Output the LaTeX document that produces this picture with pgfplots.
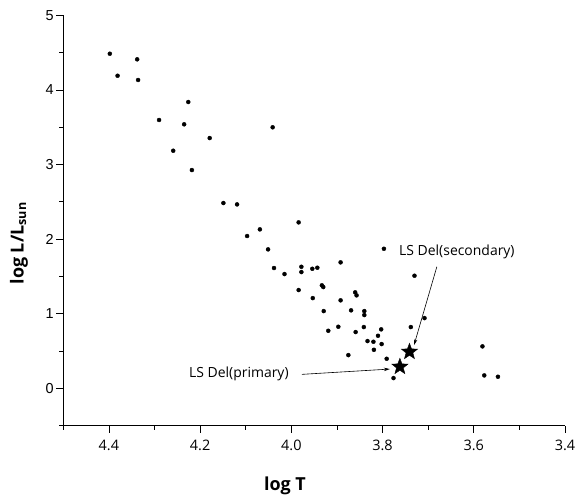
\documentclass[border=0pt]{standalone}
\usepackage{fontspec}
\usepackage{pgfplots}
\pgfplotsset{compat=1.18}
\usetikzlibrary{arrows.meta}
\usetikzlibrary{plotmarks}
\newfontfamily\comicfont{Open Sans}
\newfontfamily\arialfont{Liberation Sans}
\setmainfont{Open Sans}
\pgfdeclareplotmark{fstar}{%
  \pgfpathmoveto{\pgfpointpolar{90}{\pgfplotmarksize}}%
  \pgfpathlineto{\pgfpointpolar{126}{0.42\pgfplotmarksize}}%
  \pgfpathlineto{\pgfpointpolar{162}{\pgfplotmarksize}}%
  \pgfpathlineto{\pgfpointpolar{198}{0.42\pgfplotmarksize}}%
  \pgfpathlineto{\pgfpointpolar{234}{\pgfplotmarksize}}%
  \pgfpathlineto{\pgfpointpolar{270}{0.42\pgfplotmarksize}}%
  \pgfpathlineto{\pgfpointpolar{306}{\pgfplotmarksize}}%
  \pgfpathlineto{\pgfpointpolar{342}{0.42\pgfplotmarksize}}%
  \pgfpathlineto{\pgfpointpolar{18}{\pgfplotmarksize}}%
  \pgfpathlineto{\pgfpointpolar{54}{0.42\pgfplotmarksize}}%
  \pgfpathclose
  \pgfusepathqfillstroke}
\begin{document}
\begin{tikzpicture}
\path[use as bounding box] (-63.3bp,-71.3bp) rectangle (513.7bp,15.3bp+410.4bp);
\begin{axis}[
  at={(0,0)}, anchor=south west,
  scale only axis,
  width=501.7bp, height=410.4bp,
  x dir=reverse,
  xmin=3.4, xmax=4.5,
  ymin=-0.5, ymax=5,
  axis x line=bottom, axis y line=left,
  axis line style={-, line width=0.8bp},
  tick align=outside,
  tick style={line width=0.8bp, black},
  major tick length=7bp, minor tick length=4bp,
  xtick={4.4,4.2,4.0,3.8,3.6,3.4},
  xticklabels={4.4,4.2,4.0,3.8,3.6,3.4},
  minor xtick={4.5,4.3,4.1,3.9,3.7,3.5},
  ytick={0,1,2,3,4,5},
  minor ytick={-0.5,0.5,1.5,2.5,3.5,4.5},
  /pgf/number format/assume math mode=true,
  xticklabel style={font=\comicfont\fontsize{14.5}{14.5}\selectfont, yshift=-4bp},
  yticklabel style={font=\arialfont\fontsize{14.5}{14.5}\selectfont, xshift=1bp},
  clip=false,
]
\addplot[only marks, mark=*, mark size=2bp, black] coordinates {
(4.398,4.485) (4.338,4.410) (4.381,4.190) (4.336,4.133) (4.226,3.838)
(4.290,3.597) (4.235,3.539) (4.041,3.499) (4.179,3.355) (4.259,3.185)
(4.218,2.926) (4.149,2.484) (4.119,2.466) (4.069,2.131) (3.984,2.225)
(4.097,2.042) (4.051,1.863) (3.797,1.871) (4.038,1.613) (4.015,1.532)
(3.978,1.630) (3.978,1.559) (3.954,1.603) (3.943,1.617) (3.892,1.689)
(3.730,1.510) (3.984,1.318) (3.933,1.381) (3.930,1.358) (3.953,1.210)
(3.892,1.180) (3.860,1.287) (3.857,1.247) (3.929,1.036) (3.869,1.046)
(3.840,1.036) (3.840,0.983) (3.919,0.772) (3.897,0.826) (3.859,0.755)
(3.841,0.822) (3.803,0.791) (3.810,0.705) (3.833,0.634) (3.820,0.625)
(3.802,0.594) (3.819,0.517) (3.875,0.446) (3.791,0.397) (3.738,0.822)
(3.776,0.138) (3.708,0.942) (3.581,0.563) (3.577,0.174) (3.547,0.156)
};
\addplot[only marks, mark=fstar, mark size=8.5bp, black, mark options={fill=black, line width=0.4bp}] coordinates {
(3.741,0.491) (3.762,0.290)
};
\draw[line width=0.6bp, -{Stealth[length=6bp,width=3.5bp]}] (axis cs:3.977,0.188) -- (axis cs:3.784,0.259);
\draw[line width=0.6bp, -{Stealth[length=6bp,width=3.5bp]}] (axis cs:3.681,1.630) -- (axis cs:3.731,0.580);
\node[font=\comicfont\fontsize{14}{14}\selectfont, anchor=center] at (axis cs:4.115,0.19) {LS Del(primary)};
\node[font=\comicfont\fontsize{14}{14}\selectfont, anchor=center] at (axis cs:3.637,1.827) {LS Del(secondary)};
\end{axis}
\node[font=\comicfont\bfseries\fontsize{18}{18}\selectfont] at (221.7bp,-60.3bp) {log T};
\node[font=\comicfont\bfseries\fontsize{18}{18}\selectfont, rotate=90] at (-44.3bp,182.4bp) {log L/L\textsubscript{sun}};
\end{tikzpicture}
\end{document}
